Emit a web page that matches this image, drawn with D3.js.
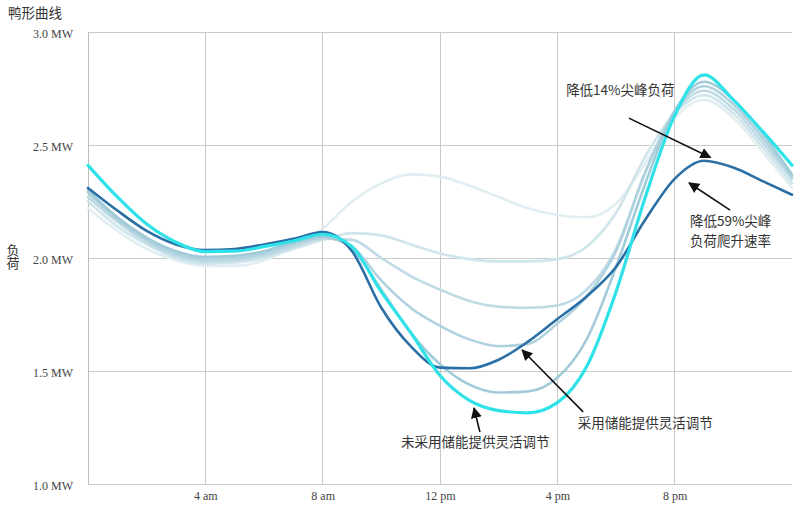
<!DOCTYPE html>
<html><head><meta charset="utf-8">
<script src="https://cdn.jsdelivr.net/npm/d3@7"></script>
<style>body{margin:0;background:#fff}svg{display:block}</style>
</head><body><svg id="c" width="800" height="510"></svg>
<script>
const hours = d3.range(0, 25);
const xTicks = [4, 8, 12, 16, 20];
const xTickLabels = ["4 am", "8 am", "12 pm", "4 pm", "8 pm"];
const yTicks = [1.0, 1.5, 2.0, 2.5, 3.0];
const yTickLabels = ["1.0 MW", "1.5 MW", "2.0 MW", "2.5 MW", "3.0 MW"];

const light1 = [2.22,2.12,2.04,1.99,1.965,1.965,1.99,2.05,2.13,2.25,2.33,2.37,2.36,2.32,2.27,2.22,2.19,2.18,2.24,2.42,2.62,2.70,2.62,2.47,2.31];
const light2 = [2.25,2.14,2.06,2.00,1.975,1.98,2.00,2.04,2.08,2.11,2.10,2.06,2.02,1.995,1.985,1.985,1.995,2.05,2.20,2.45,2.64,2.72,2.64,2.49,2.33];
const light3 = [2.27,2.16,2.07,2.01,1.985,1.99,2.01,2.05,2.085,2.08,2.00,1.92,1.86,1.81,1.785,1.78,1.79,1.86,2.04,2.38,2.64,2.74,2.66,2.51,2.35];
const light4 = [2.29,2.17,2.08,2.02,1.995,2.00,2.02,2.06,2.09,2.05,1.90,1.78,1.70,1.64,1.61,1.62,1.71,1.83,2.03,2.38,2.65,2.76,2.68,2.53,2.36];
const light5 = [2.30,2.18,2.09,2.03,2.005,2.01,2.03,2.07,2.095,2.04,1.86,1.67,1.53,1.44,1.405,1.41,1.47,1.64,1.96,2.33,2.65,2.78,2.70,2.55,2.37];
const withStorage = [2.31,2.21,2.12,2.06,2.035,2.04,2.06,2.085,2.115,2.03,1.78,1.61,1.515,1.512,1.55,1.63,1.73,1.83,1.96,2.17,2.35,2.43,2.40,2.34,2.28];
const noStorage = [2.41,2.27,2.15,2.07,2.028,2.03,2.05,2.075,2.105,2.05,1.85,1.67,1.48,1.37,1.325,1.315,1.36,1.52,1.85,2.27,2.63,2.81,2.70,2.56,2.41];

const seriesList = [
  {values: light1, color: "#e0eef2", width: 2.6},
  {values: light2, color: "#cfe4eb", width: 2.6},
  {values: light3, color: "#bedbe5", width: 2.6},
  {values: light4, color: "#afd2de", width: 2.6},
  {values: light5, color: "#a2cbd9", width: 2.6},
  {values: withStorage, color: "#2a6fa5", width: 2.6},
  {values: noStorage, color: "#2ee2e8", width: 3.2}
];

const annoTexts = [
  {text: "降低14%尖峰负荷", h: 16.30, v: 2.743},
  {text: "降低59%尖峰", h: 20.52, v: 2.163},
  {text: "负荷爬升速率", h: 20.52, v: 2.076},
  {text: "采用储能提供灵活调节", h: 16.70, v: 1.270},
  {text: "未采用储能提供灵活调节", h: 10.67, v: 1.186}
];
const arrows = [
  {h0: 18.44, v0: 2.619, h1: 21.22, v1: 2.445},
  {h0: 21.89, v0: 2.212, h1: 20.49, v1: 2.332},
  {h0: 16.88, v0: 1.319, h1: 14.80, v1: 1.593},
  {h0: 13.36, v0: 1.230, h1: 13.16, v1: 1.336}
];

const W = 800, H = 510;
const m = {left: 88, right: 8, top: 32, bottom: 26};
const svg = d3.select("#c");
const x = d3.scaleLinear().domain([0, 24]).range([m.left, W - m.right]);
const y = d3.scaleLinear().domain([1, 3]).range([H - m.bottom, m.top]);

const serif = "'Liberation Serif','DejaVu Serif',serif";
const cjk = "'Noto Sans CJK SC','Noto Sans CJK JP',sans-serif";

// grid
const grid = svg.append("g");
grid.selectAll("line.h").data(yTicks).join("line")
  .attr("x1", m.left).attr("x2", W - m.right)
  .attr("y1", d => y(d)).attr("y2", d => y(d))
  .attr("stroke", "#c9c9c9").attr("stroke-width", 1).attr("shape-rendering", "crispEdges");
grid.selectAll("line.v").data(xTicks).join("line")
  .attr("x1", d => x(d)).attr("x2", d => x(d))
  .attr("y1", m.top).attr("y2", H - m.bottom)
  .attr("stroke", "#c9c9c9").attr("stroke-width", 1).attr("shape-rendering", "crispEdges");
grid.append("line").attr("x1", m.left).attr("x2", m.left).attr("y1", m.top).attr("y2", H - m.bottom)
  .attr("stroke", "#bdbdbd").attr("shape-rendering", "crispEdges");

// y axis labels
const yAxis = d3.axisLeft(y).tickValues(yTicks).tickSize(0).tickPadding(15)
  .tickFormat((d, i) => yTickLabels[i]);
const gy = svg.append("g").attr("transform", `translate(${m.left},0)`).call(yAxis);
gy.select(".domain").remove();
gy.selectAll("text").attr("font-family", serif).attr("font-size", 12).attr("fill", "#444").attr("dy", "0.45em");

const xAxis = d3.axisBottom(x).tickValues(xTicks).tickSize(0).tickPadding(7)
  .tickFormat((d, i) => xTickLabels[i]);
const gx = svg.append("g").attr("transform", `translate(0,${H - m.bottom})`).call(xAxis);
gx.select(".domain").remove();
gx.selectAll("text").attr("font-family", serif).attr("font-size", 12).attr("fill", "#444");

// lines
const line = d3.line().x((d, i) => x(hours[i])).y(d => y(d)).curve(d3.curveMonotoneX);
svg.append("g").selectAll("path").data(seriesList).join("path")
  .attr("d", d => line(d.values))
  .attr("fill", "none").attr("stroke", d => d.color).attr("stroke-width", d => d.width)
  .attr("stroke-linejoin", "round").attr("stroke-linecap", "round");

// titles
svg.append("text").attr("x", 8).attr("y", 18).text("鸭形曲线")
  .attr("font-family", cjk).attr("font-size", 13.5).attr("fill", "#333");
svg.append("text").attr("x", 13).attr("y", 257)
  .style("writing-mode", "vertical-rl").style("glyph-orientation-vertical", "0")
  .attr("text-anchor", "middle").attr("font-family", cjk).attr("font-size", 13).attr("fill", "#333")
  .text("负荷");

// arrows
svg.append("defs").append("marker").attr("id", "ah").attr("viewBox", "0 0 10 10")
  .attr("refX", 9).attr("refY", 5).attr("markerWidth", 11).attr("markerHeight", 11)
  .attr("markerUnits", "userSpaceOnUse").attr("orient", "auto")
  .append("path").attr("d", "M0,0 L10,5 L0,10 Z").attr("fill", "#111");
svg.append("g").selectAll("line").data(arrows).join("line")
  .attr("x1", d => x(d.h0)).attr("y1", d => y(d.v0))
  .attr("x2", d => x(d.h1)).attr("y2", d => y(d.v1))
  .attr("stroke", "#111").attr("stroke-width", 1.6).attr("marker-end", "url(#ah)");

// annotation texts
svg.append("g").selectAll("text").data(annoTexts).join("text")
  .attr("x", d => x(d.h)).attr("y", d => y(d.v)).attr("dy", "0.35em")
  .attr("font-family", cjk).attr("font-size", 13.5).attr("fill", "#333")
  .text(d => d.text);
</script></body></html>
